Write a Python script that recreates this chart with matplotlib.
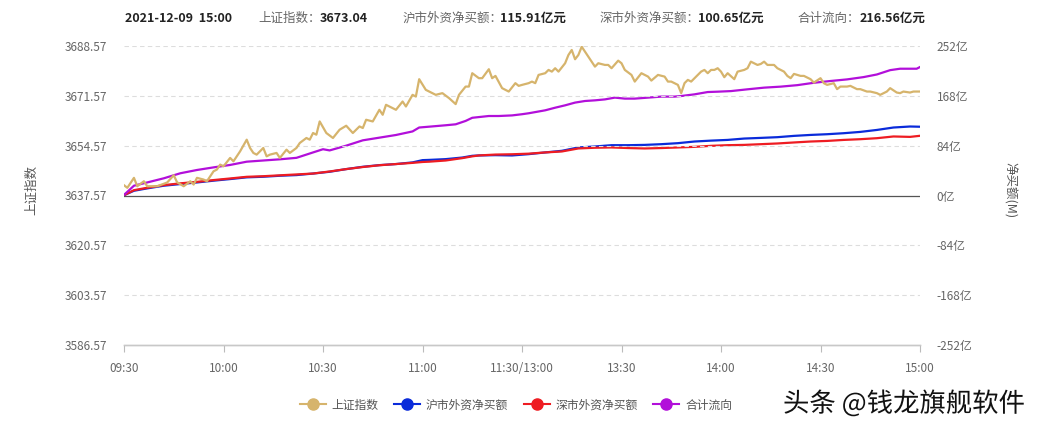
import matplotlib
matplotlib.use("Agg")
import matplotlib.pyplot as plt
from matplotlib.lines import Line2D
import matplotlib.patheffects as pe

plt.rcParams['font.family'] = ['Noto Sans CJK SC', 'DejaVu Sans']

# ---------------- data ----------------
x_tick_minutes = [0, 30, 60, 90, 120, 150, 180, 210, 240]
x_tick_labels = ['09:30', '10:00', '10:30', '11:00', '11:30/13:00', '13:30', '14:00', '14:30', '15:00']

left_ticks = [3586.57, 3603.57, 3620.57, 3637.57, 3654.57, 3671.57, 3688.57]
right_ticks = [-252, -168, -84, 0, 84, 168, 252]

# 上证指数 (minute offset from 09:30, value)
idx_t = [0, 1, 3, 4, 6, 7, 10, 13, 15, 16, 18, 20, 21, 22, 24, 25, 27, 28, 29, 30,
         32, 33, 34, 35, 37, 38, 39, 40, 42, 43, 44, 46, 47, 49, 50, 52, 53, 55, 56, 57,
         58, 59, 61, 63, 65, 67, 69, 71, 72, 73, 75, 77, 78, 79, 81, 82, 84, 85, 87, 88,
         89, 91, 92, 94, 96, 98, 100, 101, 103, 104, 105, 107, 108, 110, 111, 112, 114, 116, 118, 119,
         120, 122, 123, 124, 125, 127, 128, 129, 130, 131, 133, 134, 135, 136, 137, 138, 139, 141, 142, 143,
         145, 146, 147, 149, 150, 151, 153, 154, 156, 158, 159, 161, 163, 164, 165, 167, 168, 169, 170, 171,
         173, 174, 175, 176, 177, 178, 179, 180, 181, 182, 184, 185, 187, 188, 189, 191, 192, 193, 194, 196,
         197, 199, 200, 201, 202, 204, 205, 207, 208, 210, 211, 212, 214, 215, 216, 218, 219, 221, 222, 224,
         225, 227, 228, 230, 231, 233, 234, 235, 237, 238, 240]
idx_v = [3641.07, 3640.19, 3643.59, 3640.73, 3642.43, 3640.73, 3640.73, 3641.99, 3644.47, 3642.09,
         3640.73, 3642.43, 3641.31, 3643.59, 3643.01, 3642.43, 3645.83, 3646.41, 3648.11, 3647.53,
         3650.39, 3649.23, 3650.93, 3652.63, 3656.61, 3653.79, 3652.09, 3651.51, 3653.79, 3650.93,
         3651.51, 3652.09, 3650.39, 3653.21, 3652.09, 3653.79, 3655.49, 3657.19, 3656.61, 3658.89,
         3658.31, 3662.83, 3658.89, 3657.19, 3660.01, 3661.37, 3658.89, 3661.13, 3660.59, 3663.41,
         3662.83, 3666.81, 3665.11, 3668.51, 3667.39, 3666.81, 3669.63, 3667.93, 3671.91, 3671.33,
         3677.25, 3673.61, 3673.03, 3671.91, 3672.49, 3670.79, 3668.75, 3671.91, 3674.73, 3674.73,
         3679.29, 3677.59, 3677.59, 3680.65, 3677.59, 3678.37, 3674.19, 3673.03, 3675.89, 3674.97,
         3675.30, 3675.89, 3676.43, 3675.89, 3678.71, 3679.29, 3680.41, 3679.83, 3680.99, 3679.83,
         3682.69, 3685.51, 3687.21, 3684.05, 3685.51, 3688.33, 3686.63, 3683.23, 3681.53, 3682.69,
         3682.11, 3682.11, 3680.99, 3683.57, 3682.69, 3680.41, 3678.71, 3676.43, 3679.29, 3678.13,
         3676.77, 3678.71, 3678.13, 3676.43, 3676.43, 3675.31, 3672.49, 3675.89, 3677.01, 3676.43,
         3678.71, 3679.83, 3680.41, 3679.29, 3680.41, 3680.41, 3680.99, 3679.83, 3677.93, 3679.29,
         3677.25, 3679.83, 3680.41, 3680.99, 3683.23, 3682.11, 3682.45, 3683.23, 3682.11, 3682.11,
         3680.99, 3679.83, 3678.37, 3677.59, 3679.05, 3678.37, 3678.37, 3677.25, 3676.09, 3677.59,
         3675.89, 3675.31, 3675.89, 3673.85, 3674.73, 3674.73, 3674.97, 3673.85, 3673.85, 3673.03,
         3673.03, 3672.49, 3671.91, 3673.03, 3674.19, 3672.69, 3672.49, 3673.03, 3672.69, 3673.03,
         3673.04]

# 沪市外资净买额 (亿)
sh_t = [0, 3, 7, 12, 17, 22, 27, 32, 37, 42, 47, 52, 57, 62, 67, 72, 77, 82, 87, 90,
        92, 97, 102, 105, 107, 112, 117, 122, 127, 132, 137, 142, 147, 152, 157, 162, 167, 172, 177, 182,
        187, 192, 197, 202, 207, 212, 217, 222, 227, 232, 237, 240]
sh_v = [0.5, 8, 12, 16.5, 19.3, 22, 25, 27.7, 30.6, 31.6, 33.3, 34.4, 37, 40, 44.5, 48.4, 51.2, 53, 55.8, 59.6,
        60, 61.3, 64, 66.9, 67.5, 68, 67.5, 69.7, 72.6, 75.3, 81, 82.6, 84.8, 84.8, 85.3, 86.5, 88.2, 91, 92.5, 93.7,
        96, 97.1, 98.3, 100.5, 102.1, 103.3, 105, 107.2, 110.5, 114.6, 116.3, 115.91]

# 深市外资净买额 (亿)
sz_t = sh_t
sz_v = [0.5, 9, 13, 17.5, 20.5, 23, 26, 28.7, 31.5, 32.5, 34, 35.5, 37, 40.5, 44.5, 48, 51, 53, 55, 56.5,
        57, 59, 63, 66, 67.5, 69, 69.5, 70.5, 72.6, 74.2, 79.3, 80.5, 81, 80, 79.3, 80, 81, 82, 83.7, 84.8,
        85.3, 86.5, 87.7, 89.4, 91, 92, 93.7, 94.9, 96.6, 99.5, 98.8, 100.65]

# 合计流向 (亿)
tot_t = [0, 3, 7, 12, 17, 22, 27, 32, 37, 42, 47, 52, 57, 60, 62, 67, 72, 77, 82, 87,
         89, 92, 97, 100, 103, 105, 110, 113, 117, 120, 122, 127, 130, 133, 136, 139, 142, 145, 148, 151,
         154, 158, 162, 166, 168, 172, 176, 179, 183, 188, 193, 198, 203, 208, 213, 218, 223, 227, 231, 234,
         237, 239, 240]
tot_v = [1, 16.5, 22, 29, 37.5, 43, 47.4, 51.5, 57, 59, 61, 63.5, 72.6, 78, 76, 84, 93, 97.5, 102, 108,
         114.6, 116, 118.4, 120, 125.7, 131, 134, 134, 135, 137, 138.6, 143.6, 148, 152, 156.6, 159.3, 160.4, 162, 165, 163.3,
         163.3, 165, 166.7, 166.7, 167.7, 170.5, 174.4, 175, 176, 179, 181.8, 183.5, 186, 190, 193, 195.7, 199.6, 204, 211.3, 213.7,
         213.7, 213.7, 216.56]

header_date = '2021-12-09  15:00'
header_items = [('上证指数：', '3673.04'),
                ('沪市外资净买额：', '115.91亿元'),
                ('深市外资净买额：', '100.65亿元'),
                ('合计流向：', '216.56亿元')]

series_names = ['上证指数', '沪市外资净买额', '深市外资净买额', '合计流向']
colors = ['#D6B46C', '#0A2BDA', '#EE1C22', '#B20FDA']

# ---------------- figure ----------------
W, H = 1039, 430
fig = plt.figure(figsize=(W / 100, H / 100), dpi=100)
L, R, T, B = 124, 920, 46, 345
ax = fig.add_axes([L / W, 1 - B / H, (R - L) / W, (B - T) / H])
ax2 = ax.twinx()

tick_color = '#666666'
ax.set_xlim(0, 240)
ax.set_ylim(left_ticks[0], left_ticks[-1])
ax2.set_ylim(right_ticks[0], right_ticks[-1])

for yv in left_ticks[1:]:
    if abs(yv - 3637.57) < 1e-6:
        ax.axhline(yv, color='#555555', lw=0.9, zorder=1)
    else:
        ax.axhline(yv, color='#dddddd', lw=0.8, ls=(0, (4, 3)), zorder=0)

ax.set_yticks(left_ticks)
ax.set_yticklabels([f'{v:.2f}' for v in left_ticks])
ax2.set_yticks(right_ticks)
ax2.set_yticklabels([f'{v}亿' for v in right_ticks])
ax.set_xticks(x_tick_minutes)
ax.set_xticklabels(x_tick_labels)

ax.tick_params(axis='y', length=0, pad=12, labelsize=8.5, labelcolor=tick_color)
ax2.tick_params(axis='y', length=0, pad=12, labelsize=8.5, labelcolor=tick_color)
ax.tick_params(axis='x', length=5, width=0.8, color='#bbbbbb', pad=7, labelsize=8.5, labelcolor=tick_color)

for a in (ax, ax2):
    for s in ('top', 'left', 'right'):
        a.spines[s].set_visible(False)
    a.spines['bottom'].set_color('#c8c8c8')
    a.spines['bottom'].set_linewidth(1.0)
    a.set_facecolor('none')

ax.plot(idx_t, idx_v, color=colors[0], lw=1.6, zorder=3)
ax2.plot(sh_t, sh_v, color=colors[1], lw=1.6, zorder=3)
ax2.plot(sz_t, sz_v, color=colors[2], lw=1.6, zorder=4)
ax2.plot(tot_t, tot_v, color=colors[3], lw=1.6, zorder=4)
ax.set_zorder(ax2.get_zorder() + 1)
ax.patch.set_visible(False)

# axis titles
fig.text(32 / W, 1 - 190 / H, '上证指数', rotation=90, ha='center', va='center',
         fontsize=9, color='#555555')
fig.text(1010 / W, 1 - 190 / H, '净买额(M)', rotation=270, ha='center', va='center',
         fontsize=9, color='#555555')

# header
hy = 1 - 18 / H
fig.text(125 / W, hy, header_date, fontsize=9, fontweight='bold', color='#222222', va='center')
label_x = [258, 403, 600, 798]
value_x = [320, 500, 698, 860]
for (lab, val), lx, vx in zip(header_items, label_x, value_x):
    fig.text(lx / W, hy, lab, fontsize=9, color='#666666', va='center')
    fig.text(vx / W, hy, val, fontsize=9, fontweight='bold', color='#222222', va='center')

# legend
handles = [Line2D([0], [0], color=c, lw=1.5, marker='o', markersize=8,
                  markerfacecolor=c, markeredgecolor=c) for c in colors]
fig.legend(handles, series_names, loc='center', bbox_to_anchor=(516 / W, 1 - 405 / H),
           ncol=4, frameon=False, fontsize=8.5, handlelength=2.2, handletextpad=0.5,
           columnspacing=1.3, labelcolor='#555555')

# watermark
fig.text(783 / W, 1 - 404 / H, '头条 @钱龙旗舰软件', fontsize=19, color='#111111',
         va='center', ha='left',
         path_effects=[pe.withStroke(linewidth=2, foreground='white')])

fig.savefig('out.png', dpi=100)
